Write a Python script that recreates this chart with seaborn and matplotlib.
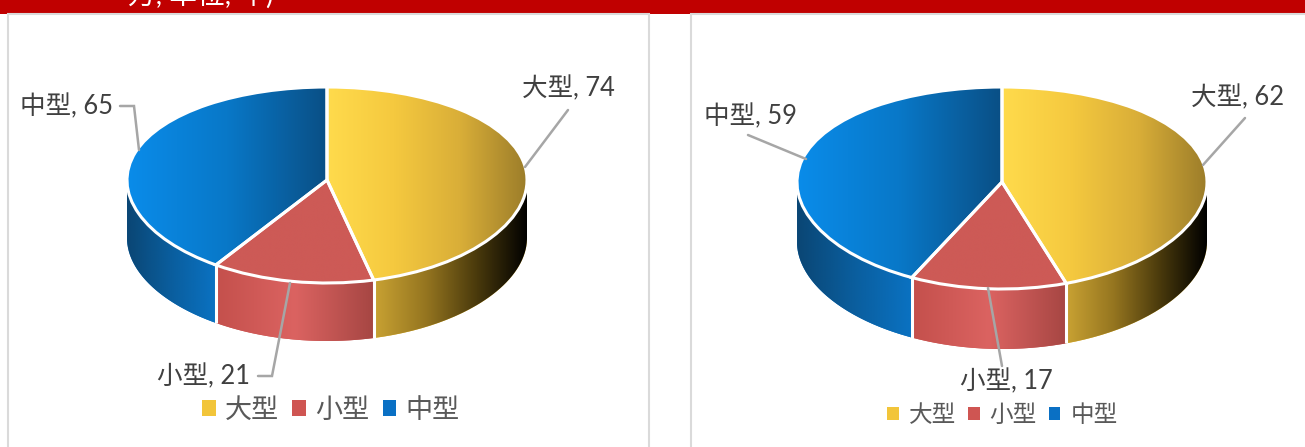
import numpy as np
import matplotlib
matplotlib.use("Agg")
import matplotlib.pyplot as plt
import seaborn as sns
from matplotlib.patches import Patch, PathPatch, Rectangle
from matplotlib.path import Path
from matplotlib.transforms import Transform

categories = ["大型", "小型", "中型"]
left_values = [74, 21, 65]
right_values = [62, 17, 59]
swatches = ["#F2C53A", "#CF5552", "#0A70C4"]

sns.set_theme(style="white")
FONT = ["Lato", "Noto Sans CJK SC", "DejaVu Sans"]
plt.rcParams["font.family"] = FONT

W, H = 1305, 447
fig = plt.figure(figsize=(W / 100, H / 100), dpi=100, facecolor="white")


class Tilt(Transform):
    """Perspective-like squash: the near half of the disc is a bit taller."""
    input_dims = output_dims = 2
    has_inverse = False

    def __init__(self, up, low):
        super().__init__()
        self.a, self.b = (up + low) / 2, (up - low) / 2

    def transform_non_affine(self, v):
        v = np.asarray(v, float)
        return np.column_stack([v[:, 0], self.a * v[:, 1] + self.b * v[:, 1] ** 2])


def blend(*cols):
    return sns.blend_palette(list(cols), n_colors=256, as_cmap=True)


TOP = [blend("#FFDB4C", "#F5C93F", "#D9AE38", "#9C7D2A"),
       blend("#CD5A56", "#CD5A56"),
       blend("#0A8CEA", "#0878C8", "#0A4F85")]
SIDE = [blend("#C9A233", "#967620", "#4A3A0C", "#000000"),
        blend("#C4504C", "#DB6361", "#A64643"),
        blend("#0A4674", "#0A5E9E", "#0A72C2")]
GRAD = np.linspace(0, 1, 256)[None, :]


def draw_pie(values, cx, cy, rx, up, low, depth):
    ax = fig.add_axes([0, 0, 1, 1], zorder=2, facecolor="none")
    tilt = Tilt(up, low)
    trans = tilt + ax.transData
    f = lambda y: tilt.a * y + tilt.b * y ** 2

    wedges, _ = ax.pie(values, startangle=90, counterclock=False,
                       wedgeprops=dict(linewidth=0))
    outline, _ = ax.pie(values, startangle=90, counterclock=False,
                        wedgeprops=dict(fill=False, edgecolor="white", linewidth=2.2, zorder=6))
    for w in list(wedges) + list(outline):
        w.set_transform(trans)

    edges = np.radians(np.r_[0, np.cumsum(values)] / np.sum(values) * 360)
    for i, w in enumerate(wedges):
        # top face
        t = np.linspace(edges[i], edges[i + 1], 80)
        xs = np.r_[0, np.sin(t)]
        im = ax.imshow(GRAD, cmap=TOP[i], extent=[xs.min(), xs.max(), -depth - low, up],
                       aspect="auto", zorder=4, interpolation="bilinear")
        im.set_clip_path(w)
        w.set_zorder(3)
        # side wall, near half only
        lo, hi = max(edges[i], np.pi / 2), min(edges[i + 1], 1.5 * np.pi)
        t = np.linspace(lo, hi, 80)
        x, y = np.sin(t), f(np.cos(t))
        verts = np.r_[np.c_[x, y], np.c_[x[::-1], y[::-1] - depth], [[x[0], y[0]]]]
        wall = PathPatch(Path(verts), lw=0, fc=swatches[i], zorder=2)
        ax.add_patch(wall)
        im2 = ax.imshow(GRAD, cmap=SIDE[i], extent=[x.min(), x.max(), -depth - low - 5, up],
                        aspect="auto", zorder=2.5, interpolation="bilinear")
        im2.set_clip_path(wall)
        if i < len(values) - 1:
            ax.plot([x[-1], x[-1]], [y[-1], y[-1] - depth], color="white", lw=2.2, zorder=5,
                    solid_capstyle="butt")

    ax.set_aspect("auto")
    ax.set_xlim(-cx / rx, (W - cx) / rx)
    ax.set_ylim(-(H - cy), cy)
    ax.set_axis_off()


# background layer
bg = fig.add_axes([0, 0, 1, 1], zorder=1)
bg.set_xlim(0, W)
bg.set_ylim(H, 0)
bg.set_axis_off()
bg.add_patch(Rectangle((0, 0), W, 13.5, fc="#C00000", ec="none"))
bg.add_patch(Rectangle((8, 14), 641, 450, fc="white", ec="#DADADA", lw=1.5))
bg.add_patch(Rectangle((691, 14), 700, 450, fc="white", ec="#DADADA", lw=1.5))
bg.text(128, 4, "万, 单位, 年)", color="white", fontsize=20, va="baseline", ha="left")

draw_pie(left_values, 327, 180, 200, 93, 103, 58)
draw_pie(right_values, 1002, 182, 205, 95, 107, 60)

# labels, leaders and legends
fg = fig.add_axes([0, 0, 1, 1], zorder=3, facecolor="none")
fg.set_xlim(0, W)
fg.set_ylim(H, 0)
fg.set_axis_off()

LINE = dict(color="#A6A6A6", lw=1.8, solid_joinstyle="miter")
TXT = dict(color="#404040", fontsize=18.4, ha="center", va="center")

for vals, centres, leaders in [
    (left_values,
     [(568, 89), (203, 377), (67, 107)],
     [[(568, 110), (525, 167)], [(258, 376), (272, 376), (290, 283)], [(120, 106), (134, 106), (139, 150)]]),
    (right_values,
     [(1238, 98), (1006, 382), (750, 117)],
     [[(1245, 118), (1203, 165)], [(988, 288), (1002, 366)], [(748, 135), (806, 159)]]),
]:
    for cat, v, c, ld in zip(categories, vals, centres, leaders):
        fg.text(*c, f"{cat}, {v}", **TXT)
        px, py = zip(*ld)
        fg.plot(px, py, **LINE)


def legend(x, y, size, pad, gap):
    handles = [Patch(fc=c, ec="none") for c in swatches]
    leg = fg.legend(handles, categories, loc="center left", bbox_to_anchor=(x, y),
                    bbox_transform=fg.transData, ncols=3, frameon=False, fontsize=size,
                    labelcolor="#595959", borderpad=0, borderaxespad=0,
                    handlelength=0.5, handleheight=0.5, handletextpad=pad, columnspacing=gap)
    return leg


fg.add_artist(legend(202, 410, 19.5, 0.35, 0.48))
legend(887, 415, 17, 0.42, 0.5)

fig.savefig("out.png", dpi=100, facecolor="white")
